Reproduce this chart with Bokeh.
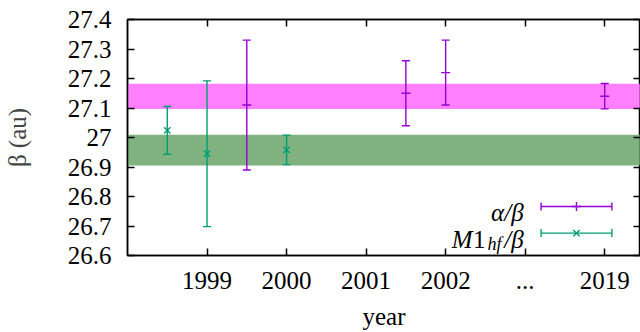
from bokeh.plotting import figure
from bokeh.models import (ColumnDataSource, Whisker, TeeHead, BoxAnnotation, FixedTicker,
                          LinearAxis, Range1d, Label, CustomJSTickFormatter)
from bokeh.embed import file_html
from bokeh.resources import INLINE

# ---- data ----
x_tick_positions = [1, 2, 3, 4, 5, 6]
x_tick_labels = ["1999", "2000", "2001", "2002", "...", "2019"]
y_ticks = [26.6, 26.7, 26.8, 26.9, 27.0, 27.1, 27.2, 27.3, 27.4]

alpha_x = [1.5, 3.5, 4.0, 6.0]
alpha_y = [27.11, 27.15, 27.22, 27.14]
alpha_err = [0.22, 0.11, 0.11, 0.043]

m1_x = [0.5, 1.0, 2.0]
m1_y = [27.024, 26.945, 26.958]
m1_err = [0.081, 0.247, 0.05]

alpha_band = [27.097, 27.182]
m1_band = [26.905, 27.009]

# ---- style ----
FONT = "Liberation Serif"
PURPLE = "#9400d3"
GREEN = "#009e73"
MAGENTA_BAND = "#ff80ff"
GREEN_BAND = "#80b280"
FS = "25px"

p = figure(width=640, height=332, output_backend="svg", toolbar_location=None,
           x_range=Range1d(0, 6.45), y_range=Range1d(26.6, 27.4),
           min_border_left=127, min_border_top=19, min_border_bottom=77, min_border_right=0)
p.grid.visible = False
p.outline_line_color = "black"
p.outline_line_width = 1.5
p.background_fill_color = "white"
p.border_fill_color = "white"

p.add_layout(BoxAnnotation(bottom=alpha_band[0], top=alpha_band[1], fill_color=MAGENTA_BAND,
                           fill_alpha=1.0, line_color=None, level="underlay"))
p.add_layout(BoxAnnotation(bottom=m1_band[0], top=m1_band[1], fill_color=GREEN_BAND,
                           fill_alpha=1.0, line_color=None, level="underlay"))

def errorbars(xs, ys, es, color, marker):
    src = ColumnDataSource(dict(x=xs, y=ys,
                                lo=[y - e for y, e in zip(ys, es)],
                                hi=[y + e for y, e in zip(ys, es)]))
    w = Whisker(source=src, base="x", lower="lo", upper="hi", dimension="height",
                line_color=color, line_width=1.4,
                upper_head=TeeHead(size=8, line_color=color, line_width=1.4),
                lower_head=TeeHead(size=8, line_color=color, line_width=1.4))
    p.add_layout(w)
    p.scatter("x", "y", source=src, marker=marker, size=9, line_color=color, line_width=1.4)

errorbars(alpha_x, alpha_y, alpha_err, PURPLE, "dash")
errorbars(m1_x, m1_y, m1_err, GREEN, "x")

xt = FixedTicker(ticks=x_tick_positions)
yt = FixedTicker(ticks=y_ticks)
yfmt = CustomJSTickFormatter(code="return tick.toFixed(1).replace(/\\.0$/, '');")
blank = CustomJSTickFormatter(code="return '';")

xax = p.xaxis[0]
yax = p.yaxis[0]
xax.ticker = xt
xax.major_label_overrides = {k: v for k, v in zip(x_tick_positions, x_tick_labels)}
yax.ticker = yt
yax.formatter = yfmt

for ax in (xax, yax):
    ax.major_tick_in = 7
    ax.major_tick_out = 0
    ax.minor_tick_line_color = None
    ax.axis_line_color = "black"
    ax.axis_line_width = 1.5
    ax.major_tick_line_width = 1.5
    ax.major_label_text_font = FONT
    ax.major_label_text_font_size = FS
    ax.major_label_text_color = "black"
    ax.axis_label_text_font = FONT
    ax.axis_label_text_font_size = FS
    ax.axis_label_text_font_style = "normal"

xax.major_label_standoff = 16
xax.axis_label = "year"
xax.axis_label_standoff = 11
xax.axis_label_text_color = "black"

yax.major_label_standoff = 16
yax.axis_label = "β (au)"
yax.axis_label_standoff = 34
yax.axis_label_text_color = "#444444"

top = LinearAxis(ticker=xt, formatter=blank, major_label_standoff=0,
                 major_tick_in=7, major_tick_out=0, minor_tick_line_color=None,
                 major_tick_line_width=1.5, axis_line_width=1.5)
right = LinearAxis(ticker=yt, formatter=blank, major_label_standoff=0,
                   major_tick_in=7, major_tick_out=0, minor_tick_line_color=None,
                   major_tick_line_width=1.5, axis_line_width=1.5)
p.add_layout(top, "above")
p.add_layout(right, "right")

# ---- legend (gnuplot style: label left of sample) ----
leg_x0, leg_x1, leg_xc = 5.2, 6.09, 5.645
leg_rows = [26.766, 26.676]
leg_text_x = 4.98

for yy, color, marker in [(leg_rows[0], PURPLE, "cross"), (leg_rows[1], GREEN, "x")]:
    s = ColumnDataSource(dict(base=[yy], lo=[leg_x0], hi=[leg_x1], xc=[leg_xc], yc=[yy]))
    p.add_layout(Whisker(source=s, base="base", lower="lo", upper="hi", dimension="width",
                         line_color=color, line_width=1.4,
                         upper_head=TeeHead(size=8, line_color=color, line_width=1.4),
                         lower_head=TeeHead(size=8, line_color=color, line_width=1.4)))
    p.scatter("xc", "yc", source=s, marker=marker, size=9, line_color=color, line_width=1.4)

def lab(text, y, xoff, yoff, size=FS, style="italic"):
    p.add_layout(Label(x=leg_text_x, y=y, x_offset=xoff, y_offset=yoff, text=text,
                       text_font=FONT, text_font_size=size, text_font_style=style,
                       text_align="right", text_baseline="alphabetic", text_color="black"))

lab("α/β", leg_rows[0], 0, -6)
lab("/β", leg_rows[1], 0, -6)
lab("hf", leg_rows[1], -22, -11, size="18px")
lab("1", leg_rows[1], -38, -6, style="normal")
lab("M", leg_rows[1], -51, -6)

open("out.html", "w").write(file_html(p, INLINE))
